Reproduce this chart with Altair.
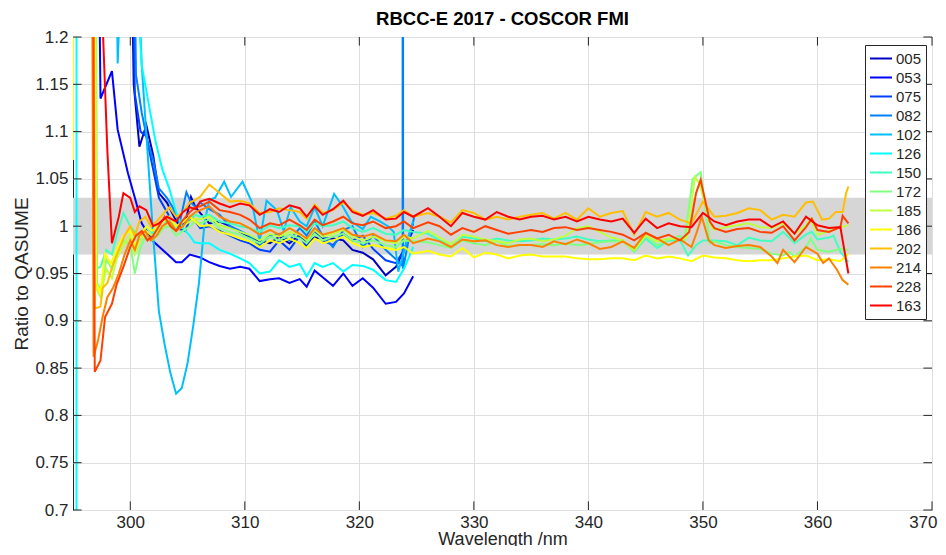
import altair as alt
import pandas as pd

SERIES = ["005", "053", "075", "082", "102", "126", "150", "172", "185", "186", "202", "214", "228", "163"]
COLORS = ["#0000BF", "#0000FF", "#0040FF", "#0080FF", "#00BFFF", "#00FFFF", "#40FFBF",
          "#80FF80", "#BFFF40", "#FFFF00", "#FFBF00", "#FF8000", "#FF4000", "#FF0000"]
X_TICKS = [300, 310, 320, 330, 340, 350, 360, 370]
Y_TICKS = [0.7, 0.75, 0.8, 0.85, 0.9, 0.95, 1.0, 1.05, 1.1, 1.15, 1.2]
BAND = [0.97, 1.03]
X_RANGE = [295, 370]

WL_MID = [306.1, 306.9, 307.8, 308.7, 309.6, 310.4, 311.3, 312.2, 313.0, 313.9, 314.8, 315.4,
          316.1, 316.8, 317.7, 318.6, 319.4, 320.3, 321.2, 322.3, 323.2, 323.9, 324.7]
WL_LATE = [326, 327, 328, 329, 330, 331, 332, 333, 334, 335, 336, 337, 338, 339, 340,
           341, 342, 343, 344, 345, 346, 347, 348]
WL_END = [349, 350, 351, 352, 353, 354, 355, 356, 357, 358, 359, 360, 361, 362, 362.7]

# ---- 005
wl_005 = [299.7, 300.3, 300.8, 301.4, 302.0, 302.5, 303.2, 303.9, 304.3, 304.8, 305.3, 305.7] + WL_MID
r_005 = [1.6, 1.15, 1.084, 1.107, 1.075, 1.035, 1.025, 1.008, 1.0, 1.003, 1.031, 1.02,
         1.014, 1.003, 1.005, 1.0, 0.994, 0.989, 0.984, 0.982, 0.989, 0.982, 0.991, 0.982,
         0.988, 0.987, 0.987, 0.985, 0.975, 0.972, 0.965, 0.948, 0.957, 0.975, 0.996]
# ---- 053
wl_053 = [297.0, 297.4, 298.4, 298.9, 299.8, 300.4, 301.0, 302.0, 303.2, 304.0, 304.5, 305.2] + WL_MID
r_053 = [1.6, 1.135, 1.164, 1.102, 1.056, 1.03, 1.003, 0.984, 0.971, 0.962, 0.962, 0.970,
         0.967, 0.962, 0.958, 0.955, 0.957, 0.955, 0.942, 0.944, 0.945, 0.940, 0.944, 0.936,
         0.953, 0.946, 0.937, 0.950, 0.937, 0.945, 0.935, 0.918, 0.920, 0.929, 0.947]
# ---- 075
wl_075 = [299.8, 300.4, 300.9, 301.4, 302.0, 302.5, 303.2, 303.9, 304.3, 304.8, 305.3, 305.7] + WL_MID
r_075 = [1.6, 1.14, 1.10, 1.095, 1.06, 1.03, 1.015, 1.0, 0.997, 0.995, 1.01, 1.005,
         0.998, 1.0, 0.995, 0.990, 0.985, 0.982, 0.975, 0.973, 0.985, 0.975, 0.990, 0.978,
         0.995, 0.985, 0.980, 0.992, 0.985, 0.990, 0.976, 0.964, 0.961, 0.975, 1.003]
# ---- 082
wl_082 = [300.0, 300.5, 301.0, 301.5, 302.0, 302.5, 303.2, 303.7, 304.3, 304.9, 305.3, 305.7,
          306.1, 306.9, 307.8, 308.7, 309.6, 310.4, 311.3, 312.2, 313.0, 313.9, 314.8, 315.4,
          316.1, 316.8, 317.7, 318.6, 319.4, 320.3, 321.2, 322.3, 323.2, 323.78, 323.8, 323.82,
          324.3, 324.8]
r_082 = [1.6, 1.16, 1.12, 1.09, 1.07, 1.04, 1.03, 1.02, 1.003, 1.036, 1.025, 1.02,
         1.025, 1.018, 1.012, 1.0, 0.995, 0.99, 0.98, 0.99, 0.992, 0.985, 0.998, 0.99,
         1.005, 0.99, 0.978, 0.996, 1.0, 0.978, 0.99, 0.975, 0.965, 0.958, 30.0, 0.955,
         0.985, 1.01]
# ---- 102
wl_102 = [298.6, 298.9, 299.3, 300.6, 301.0, 301.5, 302.0, 302.5, 303.0, 303.5, 304.0, 304.5,
          305.0, 305.5, 306.0, 306.5, 306.9, 307.4, 308.2, 308.8, 309.8, 310.6, 311.3, 311.9,
          312.8, 313.4, 314.0, 314.8, 315.4, 316.1, 316.8, 317.8, 318.6, 319.3, 320.3, 321.0,
          321.8, 322.5, 323.0, 323.4, 324.1, 324.7]
r_102 = [1.5, 1.172, 1.3, 1.3, 1.17, 1.08, 0.99, 0.91, 0.875, 0.845, 0.823, 0.829,
         0.855, 0.895, 0.94, 1.005, 1.028, 1.03, 1.047, 1.031, 1.047, 1.026, 0.984, 1.027,
         1.017, 0.995, 1.02, 1.005, 1.0, 1.02, 1.0, 1.034, 1.02, 1.005, 0.997, 1.01,
         1.005, 1.0, 0.994, 0.952, 0.982, 1.005]
# ---- 126
wl_126 = [295.3, 295.4, 300.0, 300.6, 301.0, 301.6, 302.2, 302.8, 303.4, 304.0, 304.6, 305.2,
          305.6] + WL_MID
r_126 = [0.3, 12.0, 3.0, 1.25, 1.17, 1.13, 1.09, 1.06, 1.04, 1.015, 0.998, 0.99, 0.983,
         0.982, 0.982, 0.975, 0.971, 0.966, 0.961, 0.950, 0.952, 0.964, 0.957, 0.960, 0.947,
         0.961, 0.957, 0.961, 0.952, 0.959, 0.958, 0.954, 0.943, 0.941, 0.955, 0.978]
# ---- 150
wl_150 = ([296.5, 296.9, 297.4, 297.9, 298.4, 298.8, 299.4, 300.0, 300.5, 300.9, 301.4, 301.9,
           302.4, 302.9, 303.4, 304.0, 304.6, 305.2, 305.7] + WL_MID + WL_LATE +
          [348.7, 349.4, 350, 351, 352, 353, 354, 355, 356, 357, 358, 359, 359.5, 360, 361,
           361.4, 362, 362.7])
r_150 = [2.5, 0.954, 0.957, 0.975, 0.97, 0.99, 1.014, 1.0, 0.992, 0.985, 1.0, 0.993,
         0.995, 1.0, 1.01, 0.998, 1.005, 1.008, 1.012,
         1.010, 1.012, 1.005, 1.003, 1.0, 0.998, 0.994, 1.001, 0.998, 1.001, 1.0, 0.994,
         1.003, 1.0, 1.001, 1.005, 0.998, 0.994, 0.998, 0.992, 0.991, 0.996, 0.994,
         0.992, 0.985, 0.981, 0.989, 0.987, 0.984, 0.987, 0.985, 0.984, 0.985, 0.987, 0.986,
         0.987, 0.989, 0.986, 0.984, 0.985, 0.985, 0.973, 0.987, 0.977, 0.985, 0.985,
         0.969, 0.980, 0.985, 0.985, 0.984, 0.980, 0.988, 0.985, 0.984, 0.994, 0.982, 0.991,
         0.994, 0.986, 0.988, 0.990, 0.973, 0.962]
# ---- 172
wl_172 = ([296.7, 297.1, 297.5, 297.9, 298.4, 298.8, 299.4, 300.0, 300.4, 300.9, 301.4, 301.9,
           302.4, 302.9, 303.4, 304.0, 304.6, 305.2, 305.7] + WL_MID + WL_LATE +
          [348.4, 349.1, 349.8, 350.6, 351, 352, 353, 354, 355, 356, 357, 357.5, 358, 359,
           359.4, 360, 361, 362, 362.7])
r_172 = [2.5, 0.94, 0.93, 0.965, 0.955, 0.97, 0.985, 0.98, 0.950, 0.978, 0.99, 0.985,
         0.99, 0.998, 1.0, 0.99, 0.995, 1.0, 1.005,
         1.003, 1.007, 0.998, 0.994, 0.991, 0.987, 0.982, 0.989, 0.985, 0.991, 0.987, 0.982,
         0.992, 0.985, 0.989, 0.992, 0.985, 0.982, 0.985, 0.980, 0.978, 0.985, 0.984,
         0.983, 0.980, 0.977, 0.985, 0.982, 0.980, 0.984, 0.979, 0.980, 0.980, 0.981, 0.980,
         0.982, 0.980, 0.981, 0.983, 0.984, 0.984, 0.975, 0.990, 0.980, 0.985, 0.990,
         0.985, 1.050, 1.057, 0.982, 0.984, 0.980, 0.978, 0.977, 0.976, 0.971, 0.969, 0.973,
         0.968, 0.978, 0.987, 0.975, 0.973, 0.976, 0.975]
# ---- 185
wl_185 = ([296.6, 297.0, 297.4, 297.9, 298.4, 298.8, 299.4, 300.0, 300.4, 300.9, 301.4, 301.9,
           302.4, 302.9, 303.4, 304.0, 304.6, 305.2, 305.7] + WL_MID + WL_LATE +
          [348.6, 349.3, 349.7, 350.7, 351, 352, 353, 354, 355, 356, 357, 358, 359, 359.4,
           360, 361, 362, 362.7])
r_185 = [2.5, 0.935, 0.925, 0.955, 0.945, 0.965, 0.98, 0.99, 0.97, 0.985, 0.995, 0.99,
         0.995, 1.0, 1.005, 0.995, 1.0, 1.005, 1.008,
         1.007, 1.010, 1.001, 0.998, 0.994, 0.991, 0.985, 0.992, 0.989, 0.994, 0.991, 0.985,
         0.996, 0.989, 0.992, 0.996, 0.989, 0.985, 0.989, 0.984, 0.982, 0.989, 0.987,
         0.995, 0.988, 0.981, 0.991, 0.989, 0.986, 0.984, 0.982, 0.986, 0.987, 0.984, 0.986,
         0.990, 0.998, 1.0, 0.994, 0.988, 0.985, 0.974, 0.990, 0.984, 0.987, 0.986,
         0.988, 1.052, 1.045, 1.0, 0.996, 0.999, 1.001, 1.003, 0.999, 0.998, 1.003, 0.992,
         1.001, 1.008, 0.991, 0.995, 0.999, 1.001]
# ---- 186
wl_186 = ([295.0, 295.5, 296.5, 297.0, 297.4, 297.8, 298.3, 298.8, 299.4, 300.0, 300.4, 300.9,
           301.4, 301.9, 302.4, 302.9, 303.4, 304.0, 304.6, 305.2, 305.7] + WL_MID + WL_LATE +
          WL_END)
r_186 = [1.07, 8.0, 3.0, 0.94, 0.93, 0.971, 0.96, 0.975, 0.99, 0.995, 0.98, 0.99,
         1.0, 0.995, 1.0, 1.005, 1.01, 1.0, 1.005, 1.01, 1.005,
         1.0, 1.001, 0.994, 0.991, 0.987, 0.984, 0.978, 0.985, 0.982, 0.987, 0.982, 0.977,
         0.987, 0.982, 0.985, 0.989, 0.982, 0.978, 0.980, 0.977, 0.975, 0.978, 0.971,
         0.974, 0.970, 0.968, 0.977, 0.967, 0.972, 0.970, 0.966, 0.969, 0.970, 0.968, 0.968,
         0.968, 0.966, 0.965, 0.965, 0.966, 0.966, 0.964, 0.969, 0.966, 0.968, 0.966,
         0.963, 0.969, 0.967, 0.966, 0.964, 0.963, 0.964, 0.964, 0.966, 0.968, 0.969, 0.964,
         0.965, 0.963, 0.971]
# ---- 202
wl_202 = ([296.4, 296.9, 297.4, 297.6, 298.0, 298.5, 299.0, 299.5, 300.0, 300.4, 300.8, 301.3,
           301.8, 302.3, 302.8, 303.4, 304.0, 304.6, 305.2, 305.7] + WL_MID + WL_LATE +
          [349, 350, 351, 352, 353, 354, 355, 356, 357, 358, 359, 359.6, 360.4, 361, 361.6,
           362.2, 362.5, 362.7])
r_202 = [2.5, 0.913, 0.915, 0.935, 0.94, 0.96, 0.975, 0.99, 1.0, 0.99, 1.005, 1.01,
         1.0, 1.005, 1.012, 1.02, 1.01, 1.015, 1.025, 1.028,
         1.031, 1.044, 1.035, 1.026, 1.027, 1.024, 1.014, 1.015, 1.019, 1.017, 1.015, 1.008,
         1.023, 1.014, 1.017, 1.025, 1.017, 1.012, 1.014, 1.008, 1.011, 1.017, 1.010,
         1.014, 1.010, 1.004, 1.017, 1.014, 1.007, 1.010, 1.007, 1.010, 1.012, 1.014, 1.008,
         1.014, 1.007, 1.019, 1.010, 1.014, 1.016, 0.991, 1.015, 1.010, 1.014, 1.007,
         1.003, 1.026, 1.010, 1.011, 1.014, 1.019, 1.017, 1.007, 1.012, 1.010, 1.025, 1.026,
         1.007, 1.008, 1.015, 1.015, 1.035, 1.042]
# ---- 214
wl_214 = ([296.3, 296.8, 297.2, 297.6, 298.0, 298.5, 299.0, 299.5, 300.0, 300.4, 300.8, 301.3,
           301.8, 302.3, 302.8, 303.4, 304.0, 304.6, 305.2, 305.7] + WL_MID + WL_LATE +
          [349, 349.5, 349.9, 350.5, 351, 352, 353, 354, 355, 356, 356.5, 357, 358, 359, 360,
           360.5, 361, 361.7, 362.2, 362.7])
r_214 = [2.5, 0.862, 0.880, 0.905, 0.925, 0.935, 0.950, 0.97, 0.985, 0.975, 0.99, 0.995,
         0.985, 0.99, 1.0, 1.005, 0.995, 1.0, 1.01, 1.015,
         1.017, 1.021, 1.010, 1.005, 1.003, 0.998, 0.991, 0.996, 0.991, 0.998, 0.992, 0.987,
         0.998, 0.991, 0.994, 0.998, 0.991, 0.989, 0.992, 0.985, 0.984, 0.991, 0.982,
         0.987, 0.984, 0.978, 0.986, 0.984, 0.985, 0.980, 0.978, 0.980, 0.980, 0.978, 0.984,
         0.981, 0.986, 0.982, 0.976, 0.978, 0.984, 0.977, 0.993, 0.987, 0.980, 0.986,
         0.978, 0.995, 1.010, 0.985, 0.980, 0.977, 0.979, 0.980, 0.978, 0.968, 0.961, 0.975,
         0.962, 0.978, 0.971, 0.961, 0.966, 0.954, 0.943, 0.938]
# ---- 228
wl_228 = ([296.4, 296.9, 297.4, 297.8, 298.4, 298.8, 299.4, 300.0, 300.5, 301.0, 301.5, 302.0,
           302.5, 303.0, 303.5, 304.0, 304.5, 305.2, 305.7] + WL_MID + WL_LATE +
          [348.8, 349.4, 349.8, 350.6, 351, 352, 353, 354, 355, 356, 357, 358, 359, 359.5,
           360, 361, 362, 362.2, 362.7])
r_228 = [2.5, 0.846, 0.858, 0.904, 0.918, 0.938, 0.957, 0.978, 0.99, 0.995, 0.985, 0.99,
         1.0, 1.01, 1.0, 0.995, 1.005, 1.015, 1.02,
         1.021, 1.026, 1.017, 1.015, 1.012, 1.007, 0.998, 1.003, 1.001, 1.007, 1.001, 0.996,
         1.007, 1.001, 1.005, 1.010, 1.003, 1.001, 1.005, 0.998, 1.0, 1.005, 0.998,
         1.004, 1.0, 0.991, 0.998, 0.994, 1.0, 0.996, 0.992, 0.994, 0.996, 0.994, 0.998,
         0.999, 0.996, 0.998, 0.996, 0.994, 0.991, 0.985, 0.993, 0.987, 0.991, 0.985,
         0.994, 1.035, 1.049, 1.005, 0.998, 0.994, 0.997, 0.998, 0.994, 0.993, 1.0, 0.985,
         0.999, 1.008, 0.996, 0.994, 0.999, 1.011, 1.003]
# ---- 163
wl_163 = ([297.0, 297.6, 298.0, 298.4, 299.0, 299.4, 300.0, 300.4, 300.8, 301.4, 302.0, 302.5,
           303.2, 304.0, 304.6, 305.2, 305.7] + WL_MID + WL_LATE + WL_END)
r_163 = [1.8, 1.21, 1.08, 0.982, 1.01, 1.035, 1.030, 1.015, 1.021, 1.017, 1.0, 1.003,
         1.010, 1.005, 1.015, 1.020, 1.018,
         1.026, 1.029, 1.024, 1.020, 1.024, 1.022, 1.012, 1.018, 1.015, 1.022, 1.019, 1.010,
         1.021, 1.012, 1.018, 1.027, 1.015, 1.011, 1.017, 1.007, 1.008, 1.015, 1.010,
         1.019, 1.010, 1.0, 1.014, 1.010, 1.007, 1.015, 1.010, 1.007, 1.010, 1.011, 1.007,
         1.010, 1.005, 1.010, 1.007, 1.005, 1.008, 0.993, 1.008, 0.998, 1.003, 1.0,
         0.999, 1.014, 1.005, 1.001, 1.005, 1.007, 1.007, 0.999, 1.005, 0.992, 1.010, 1.001,
         0.998, 0.999, 0.950]

DATA = {
    "005": (wl_005, r_005), "053": (wl_053, r_053), "075": (wl_075, r_075),
    "082": (wl_082, r_082), "102": (wl_102, r_102), "126": (wl_126, r_126),
    "150": (wl_150, r_150), "172": (wl_172, r_172), "185": (wl_185, r_185),
    "186": (wl_186, r_186), "202": (wl_202, r_202), "214": (wl_214, r_214),
    "228": (wl_228, r_228), "163": (wl_163, r_163),
}

rows = []
for s in SERIES:
    wl, r = DATA[s]
    assert len(wl) == len(r), (s, len(wl), len(r))
    for i, (a, b) in enumerate(zip(wl, r)):
        rows.append({"series": s, "wl": a, "ratio": b, "idx": i})
df = pd.DataFrame(rows)

band_df = pd.DataFrame({"x0": [X_RANGE[0]], "x1": [X_RANGE[1]], "y0": [BAND[0]], "y1": [BAND[1]]})
xt_df = pd.DataFrame({"t": X_TICKS})
yt_df = pd.DataFrame({"t": Y_TICKS})

W, H = 859, 473
AX = "#262626"
TL = 8.6
FONT = "Liberation Sans"

xs = alt.Scale(domain=X_RANGE, nice=False, zero=False)
ys = alt.Scale(domain=[Y_TICKS[0], Y_TICKS[-1]], nice=False, zero=False)

LAST_X = "datum.value == %d" % X_TICKS[-1]
X_AXIS = alt.Axis(values=X_TICKS, title="Wavelength /nm", labelPadding=4,
                  labelFlush=False, labelOverlap=False, grid=True, ticks=False, domain=False,
                  labelAlign={"condition": {"test": LAST_X, "value": "right"}, "value": "center"},
                  labelOffset={"condition": {"test": LAST_X, "value": 5}, "value": 0},
                  titleFontSize=18, titleY=34, titleBaseline="alphabetic")
Y_AXIS = alt.Axis(values=Y_TICKS, format="~g", title="Ratio to QASUME", labelPadding=5,
                  titlePadding=3, labelOverlap=False, grid=True, ticks=False, domain=False)

band = alt.Chart(band_df).mark_rect(color="#d6d6d6").encode(
    x=alt.X("x0:Q", scale=xs, axis=X_AXIS), x2="x1:Q",
    y=alt.Y("y0:Q", scale=ys, axis=Y_AXIS), y2="y1:Q")

lines = alt.Chart(df).mark_line(clip=True, strokeWidth=2).encode(
    x=alt.X("wl:Q", scale=xs, axis=X_AXIS),
    y=alt.Y("ratio:Q", scale=ys, axis=Y_AXIS),
    color=alt.Color("series:N", scale=alt.Scale(domain=SERIES, range=COLORS),
                    sort=SERIES,
                    legend=alt.Legend(orient="none", legendX=792, legendY=8, title=None,
                                      direction="vertical", fillColor="white",
                                      strokeColor=AX, padding=4, symbolType="stroke",
                                      symbolStrokeWidth=2, symbolSize=484,
                                      labelFontSize=15, labelColor=AX, labelFont=FONT,
                                      clipHeight=19, rowPadding=0, labelOffset=3)),
    order=alt.Order("idx:Q"),
)

bottom_t = alt.Chart(xt_df).mark_rule(color=AX, strokeWidth=1).encode(
    x=alt.X("t:Q", scale=xs, axis=X_AXIS), y=alt.value(H), y2=alt.value(H - TL))
top_t = alt.Chart(xt_df).mark_rule(color=AX, strokeWidth=1).encode(
    x=alt.X("t:Q", scale=xs, axis=X_AXIS), y=alt.value(0), y2=alt.value(TL))
left_t = alt.Chart(yt_df).mark_rule(color=AX, strokeWidth=1).encode(
    y=alt.Y("t:Q", scale=ys, axis=Y_AXIS), x=alt.value(0), x2=alt.value(TL))
right_t = alt.Chart(yt_df).mark_rule(color=AX, strokeWidth=1).encode(
    y=alt.Y("t:Q", scale=ys, axis=Y_AXIS), x=alt.value(W), x2=alt.value(W - TL))

chart = alt.layer(band, lines, bottom_t, top_t, left_t, right_t).properties(
    width=W, height=H,
    title=alt.TitleParams("RBCC-E 2017 - COSCOR FMI", fontSize=18.5, fontWeight="bold",
                          color="#000000", anchor="middle", frame="group", offset=0,
                          font=FONT),
    autosize=alt.AutoSizeParams(type="none"),
    padding={"left": 65, "top": 29, "right": 6, "bottom": 36},
).configure(font=FONT, background="white").configure_view(
    stroke=AX, strokeWidth=1
).configure_axis(
    gridColor="#dfdfdf", gridWidth=1,
    labelColor=AX, labelFontSize=17, labelFont=FONT,
    titleColor=AX, titleFontSize=19, titleFontWeight="normal", titleFont=FONT,
)

chart.save("out.html", embed_options={"renderer": "svg", "actions": False})
